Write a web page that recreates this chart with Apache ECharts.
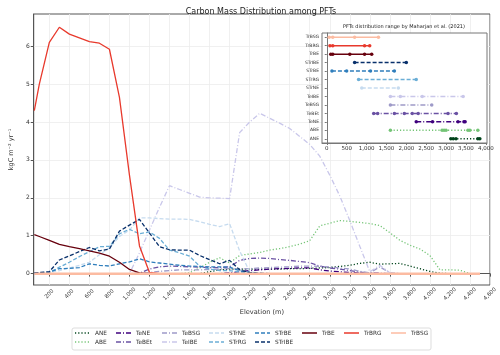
<!DOCTYPE html>
<html>
<head>
<meta charset="utf-8">
<script src="https://cdn.jsdelivr.net/npm/echarts@6/dist/echarts.min.js"></script>
<style>
html, body { margin: 0; padding: 0; background: #fff; }
#chart { width: 500px; height: 355px; }
</style>
</head>
<body>
<div id="chart"></div>
<script>
// elevation bins (m)
var elev = [50, 100, 200, 300, 400, 500, 600, 700, 800, 900,
  1000, 1100, 1200, 1300, 1400, 1500, 1600, 1700, 1800, 1900,
  2000, 2100, 2200, 2300, 2400, 2500, 2600, 2700, 2800, 2900,
  3000, 3100, 3200, 3300, 3400, 3500, 3600, 3700, 3800, 3900,
  4000, 4100, 4200, 4300, 4400, 4500]

// carbon mass per PFT, kgC m-2 yr-1
var ANE = [0, 0, 0, 0, 0, 0, 0, 0, 0, 0,
  0, 0, 0, 0, 0, 0, 0, 0, 0.05, 0.1,
  0.12, 0.12, 0.12, 0.12, 0.12, 0.12, 0.13, 0.13, 0.14, 0.15,
  0.16, 0.19, 0.22, 0.27, 0.3, 0.25, 0.26, 0.27, 0.2, 0.13,
  0.06, 0.01, 0, 0, 0, 0]
var ABE = [0, 0, 0, 0, 0, 0, 0, 0, 0, 0,
  0, 0, 0, 0, 0, 0, 0.02, 0.15, 0.3, 0.42,
  0.28, 0.48, 0.52, 0.56, 0.62, 0.66, 0.71, 0.78, 0.87, 1.26,
  1.33, 1.4, 1.38, 1.35, 1.32, 1.27, 1.08, 0.88, 0.75, 0.65,
  0.48, 0.1, 0.1, 0.09, 0, 0]
var TeNE = [0, 0, 0, 0, 0, 0, 0, 0, 0, 0,
  0, 0, 0, 0, 0, 0, 0, 0, 0, 0,
  0.02, 0.05, 0.08, 0.1, 0.12, 0.13, 0.14, 0.15, 0.15, 0.1,
  0.07, 0.05, 0.03, 0.02, 0.01, 0.01, 0, 0, 0, 0,
  0, 0, 0, 0, 0, 0]
var TeBEt = [0, 0, 0, 0, 0, 0, 0, 0, 0, 0,
  0, 0.01, 0.12, 0.18, 0.2, 0.19, 0.18, 0.17, 0.16, 0.16,
  0.18, 0.35, 0.4, 0.41, 0.4, 0.37, 0.35, 0.32, 0.29, 0.2,
  0.15, 0.12, 0.08, 0.04, 0.01, 0, 0, 0, 0, 0,
  0, 0, 0, 0, 0, 0]
var TeBSG = [0, 0, 0, 0, 0, 0, 0, 0, 0, 0,
  0, 0, 0.03, 0.06, 0.08, 0.1, 0.1, 0.1, 0.11, 0.12,
  0.13, 0.12, 0.13, 0.15, 0.16, 0.17, 0.18, 0.2, 0.2, 0.19,
  0.18, 0.15, 0.12, 0.06, 0.02, 0.18, 0.02, 0, 0, 0,
  0, 0, 0, 0, 0, 0]
var TeIBE = [0, 0, 0, 0, 0, 0, 0, 0, 0, 0,
  0, 0.55, 1.15, 1.75, 2.32, 2.22, 2.12, 2.02, 2.0, 1.99,
  1.98, 3.72, 4.0, 4.23, 4.1, 3.97, 3.83, 3.62, 3.41, 3.1,
  2.6, 2.05, 1.4, 0.72, 0.05, 0.22, 0.02, 0, 0, 0,
  0, 0, 0, 0, 0, 0]
var STrNE = [0, 0, 0.03, 0.08, 0.15, 0.22, 0.3, 0.5, 0.68, 0.98,
  1.15, 1.47, 1.47, 1.45, 1.44, 1.44, 1.43, 1.37, 1.3, 1.24,
  1.32, 0.6, 0.05, 0.01, 0, 0, 0, 0, 0, 0,
  0, 0, 0, 0, 0, 0, 0, 0, 0, 0,
  0, 0, 0, 0, 0, 0]
var STrRG = [0.02, 0.02, 0.03, 0.17, 0.3, 0.45, 0.58, 0.71, 0.72, 1.05,
  1.17, 1.05, 1.1, 0.93, 0.62, 0.55, 0.46, 0.2, 0.12, 0.08,
  0.08, 0.04, 0.02, 0, 0, 0, 0, 0, 0, 0,
  0, 0, 0, 0, 0, 0, 0, 0, 0, 0,
  0, 0, 0, 0, 0, 0]
var STrBE = [0.02, 0.02, 0.04, 0.13, 0.14, 0.16, 0.26, 0.22, 0.2, 0.26,
  0.31, 0.39, 0.31, 0.28, 0.25, 0.22, 0.2, 0.19, 0.18, 0.18,
  0.17, 0.08, 0.03, 0, 0, 0, 0, 0, 0, 0,
  0, 0, 0, 0, 0, 0, 0, 0, 0, 0,
  0, 0, 0, 0, 0, 0]
var STrIBE = [0.02, 0.03, 0.05, 0.36, 0.47, 0.58, 0.69, 0.6, 0.65, 1.12,
  1.28, 1.43, 1.07, 0.71, 0.63, 0.62, 0.62, 0.48, 0.37, 0.26,
  0.35, 0.1, 0.03, 0.01, 0, 0, 0, 0, 0, 0,
  0, 0, 0, 0, 0, 0, 0, 0, 0, 0,
  0, 0, 0, 0, 0, 0]
var TrBE = [1.03, 0.98, 0.88, 0.77, 0.71, 0.66, 0.6, 0.54, 0.46, 0.3,
  0.11, 0.02, 0, 0, 0, 0, 0, 0, 0, 0,
  0, 0, 0, 0, 0, 0, 0, 0, 0, 0,
  0, 0, 0, 0, 0, 0, 0, 0, 0, 0,
  0, 0, 0, 0, 0, 0]
var TrBRG = [4.3, 5.0, 6.1, 6.5, 6.32, 6.22, 6.12, 6.08, 5.92, 4.65,
  2.6, 0.73, 0.03, 0, 0, 0, 0, 0, 0, 0,
  0, 0, 0, 0, 0, 0, 0, 0, 0, 0,
  0, 0, 0, 0, 0, 0, 0, 0, 0, 0,
  0, 0, 0, 0, 0, 0]
var TrBSG = [0, 0, 0, 0, 0, 0, 0, 0, 0, 0,
  0, 0, 0, 0, 0, 0, 0, 0, 0, 0,
  0, 0, 0, 0, 0, 0, 0, 0, 0, 0,
  0, 0, 0, 0, 0, 0, 0, 0, 0, 0,
  0, 0, 0, 0, 0, 0]

// ranges by Maharjan et al. (2021), m
var rANE = [3120, 3180, 3250, 3800, 3850]
var rABE = [1600, 2900, 2950, 3000, 3550, 3600, 3800]
var rTeNE = [2250, 2660, 3300, 3450, 3480]
var rTeBEt = [1180, 1280, 1700, 1950, 2150, 2300, 3050, 3260]
var rTeBSG = [1600, 2640]
var rTeIBE = [1600, 1850, 2400, 3430]
var rSTrNE = [880, 1800]
var rSTrRG = [800, 2250]
var rSTrBE = [130, 500, 1100, 1700]
var rSTrIBE = [700, 2000]
var rTrBE = [100, 150, 580, 950, 1130]
var rTrBRG = [80, 150, 950, 1080]
var rTrBSG = [60, 150, 700, 1300]

var xTicks = [200, 400, 600, 800, 1000, 1200, 1400, 1600, 1800, 2000, 2200, 2400,
  2600, 2800, 3000, 3200, 3400, 3600, 3800, 4000, 4200, 4400, 4600]
var yTicks = [0, 1, 2, 3, 4, 5, 6]
var insetTicks = [0, 500, 1000, 1500, 2000, 2500, 3000, 3500, 4000]

var FONT = 'DejaVu Sans'
var DOT = [1.2, 2]
var DASHDOT = [5, 2, 1, 2]
var DASH = [4, 2]

var pfts = [
  { name: 'ANE', data: ANE, range: rANE, color: '#00441b', type: DOT },
  { name: 'ABE', data: ABE, range: rABE, color: '#74c476', type: DOT },
  { name: 'TeNE', data: TeNE, range: rTeNE, color: '#3f007d', type: DASHDOT },
  { name: 'TeBEt', data: TeBEt, range: rTeBEt, color: '#6a51a3', type: DASHDOT },
  { name: 'TeBSG', data: TeBSG, range: rTeBSG, color: '#9e9ac8', type: DASHDOT },
  { name: 'TeIBE', data: TeIBE, range: rTeIBE, color: '#c9c7ea', type: DASHDOT },
  { name: 'STrNE', data: STrNE, range: rSTrNE, color: '#c6dbef', type: DASH },
  { name: 'STrRG', data: STrRG, range: rSTrRG, color: '#6baed6', type: DASH },
  { name: 'STrBE', data: STrBE, range: rSTrBE, color: '#2f7ebc', type: DASH },
  { name: 'STrIBE', data: STrIBE, range: rSTrIBE, color: '#08306b', type: DASH },
  { name: 'TrBE', data: TrBE, range: rTrBE, color: '#67000d', type: 'solid' },
  { name: 'TrBRG', data: TrBRG, range: rTrBRG, color: '#e8392c', type: 'solid' },
  { name: 'TrBSG', data: TrBSG, range: rTrBSG, color: '#fcbba1', type: 'solid' }
]
var cats = pfts.map(function (p) { return p.name })

var series = []
pfts.forEach(function (p) {
  series.push({
    name: p.name,
    type: 'line',
    xAxisIndex: 0,
    yAxisIndex: 0,
    symbol: 'none',
    z: 2,
    lineStyle: { color: p.color, width: p.name === 'TrBSG' ? 2.5 : 1.3, type: p.type },
    itemStyle: { color: p.color },
    data: elev.map(function (e, i) { return [e, p.data[i]] })
  })
})
pfts.forEach(function (p) {
  series.push({
    name: p.name + ' range',
    type: 'line',
    xAxisIndex: 1,
    yAxisIndex: 1,
    symbol: 'circle',
    symbolSize: 3.5,
    z: 12,
    lineStyle: { color: p.color, width: 1.5, type: p.type },
    itemStyle: { color: p.color },
    data: p.range.map(function (x) { return [x, p.name] })
  })
})

// legend columns like matplotlib ncol=8
var legCols = [['ANE', 'ABE'], ['TeNE', 'TeBEt'], ['TeBSG', 'TeIBE'], ['STrNE', 'STrRG'],
  ['STrBE', 'STrIBE'], ['TrBE'], ['TrBRG'], ['TrBSG']]
var legLeft = [74, 115, 161, 208, 254, 301, 343, 390]
var legends = legCols.map(function (c, i) {
  return {
    orient: 'vertical',
    left: legLeft[i],
    top: 330,
    padding: 0,
    itemWidth: 15,
    itemHeight: 6,
    itemGap: 3,
    selectedMode: false,
    itemStyle: { opacity: 0 },
    lineStyle: { width: 2, opacity: 0.75 },
    data: c,
    textStyle: { fontFamily: FONT, fontSize: 5.8, color: '#333' }
  }
})

var myChart = echarts.init(document.getElementById('chart'))
var option = {
  animation: false,
  backgroundColor: '#fff',
  title: [
    {
      text: 'Carbon Mass Distribution among PFTs',
      left: 256,
      top: 3,
      textAlign: 'center',
      textStyle: { fontFamily: FONT, fontSize: 8, fontWeight: 'normal', color: '#222' }
    },
    {
      text: 'PFTs distribution range by Maharjan et al. (2021)',
      left: 404,
      top: 24,
      textAlign: 'center',
      padding: 0,
      textStyle: { fontFamily: FONT, fontSize: 5, fontWeight: 'normal', color: '#222' }
    }
  ],
  legend: legends,
  graphic: [{
    type: 'rect',
    shape: { x: 72, y: 328, width: 359, height: 22, r: 2 },
    style: { fill: 'none', stroke: '#dddddd', lineWidth: 1 }
  }],
  grid: [
    { left: 23, top: 14, right: 10, bottom: 70, show: true, borderColor: '#555', borderWidth: 1 },
    { left: 322, top: 33, width: 165, height: 110, show: true, backgroundColor: '#fff', borderColor: '#777', borderWidth: 1, z: 10 }
  ],
  xAxis: [
    {
      gridIndex: 0,
      type: 'value',
      min: 44,
      max: 4600,
      name: 'Elevation (m)',
      nameLocation: 'middle',
      nameGap: 21,
      nameTextStyle: { fontFamily: FONT, fontSize: 6.6, color: '#333' },
      axisLine: { show: true, lineStyle: { color: '#555' } },
      axisTick: { show: true, length: 3, customValues: xTicks, lineStyle: { color: '#555' } },
      axisLabel: {
        customValues: xTicks,
        rotate: 45,
        align: 'center',
        verticalAlign: 'middle',
        margin: 9,
        fontFamily: FONT,
        fontSize: 5.5,
        color: '#333'
      },
      splitLine: { show: true, lineStyle: { color: '#ececec', width: 0.8 } }
    },
    {
      gridIndex: 1,
      type: 'value',
      min: -120,
      max: 4030,
      z: 11,
      axisLine: { show: true, lineStyle: { color: '#777' } },
      axisTick: { show: true, length: 2, customValues: insetTicks, lineStyle: { color: '#777' } },
      axisLabel: { customValues: insetTicks, margin: 3, fontFamily: FONT, fontSize: 5.5, color: '#333' },
      splitLine: { show: false }
    }
  ],
  yAxis: [
    {
      gridIndex: 0,
      type: 'value',
      min: -0.3,
      max: 6.85,
      name: 'kgC m\u207b\u00b2 yr\u207b\u00b9',
      nameLocation: 'middle',
      nameGap: 12,
      nameTextStyle: { fontFamily: FONT, fontSize: 6.5, color: '#333' },
      axisLine: { show: true, lineStyle: { color: '#555' } },
      axisTick: { show: true, length: 3, customValues: yTicks, lineStyle: { color: '#555' } },
      axisLabel: { customValues: yTicks, margin: 4, fontFamily: FONT, fontSize: 6, color: '#333' },
      splitLine: { show: true, lineStyle: { color: '#ececec', width: 0.8 } }
    },
    {
      gridIndex: 1,
      type: 'category',
      data: cats,
      z: 11,
      axisLine: { show: true, lineStyle: { color: '#777' } },
      axisTick: { show: true, length: 2, alignWithLabel: true, lineStyle: { color: '#777' } },
      axisLabel: { interval: 0, margin: 3, fontFamily: FONT, fontSize: 4.5, color: '#333' },
      splitLine: { show: false }
    }
  ],
  series: series
}

myChart.setOption(option)
</script>
</body>
</html>
